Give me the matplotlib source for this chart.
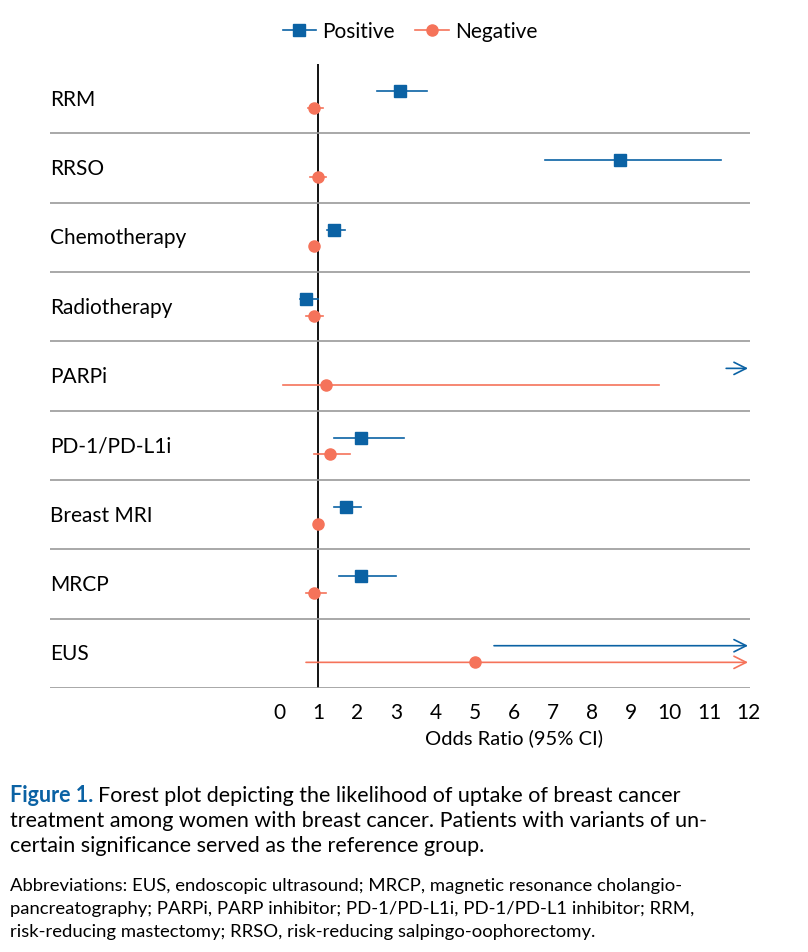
import matplotlib
matplotlib.use("Agg")
import matplotlib.pyplot as plt

categories = ["RRM", "RRSO", "Chemotherapy", "Radiotherapy", "PARPi", "PD-1/PD-L1i", "Breast MRI", "MRCP", "EUS"]
pos_or = [3.09, 8.72, 1.41, 0.69, None, 2.1, 1.71, 2.1, None]
pos_lo = [2.5, 6.8, 1.23, 0.54, 11.44, 1.41, 1.41, 1.53, 5.5]
pos_hi = [3.78, 11.3, 1.69, 1.0, 12.0, 3.2, 2.1, 3.0, 12.0]
pos_arrow = [False, False, False, False, True, False, False, False, True]
neg_or = [0.9, 1.0, 0.9, 0.9, 1.2, 1.3, 1.0, 0.9, 5.01]
neg_lo = [0.74, 0.8, 0.85, 0.69, 0.1, 0.9, 0.95, 0.69, 0.69]
neg_hi = [1.13, 1.2, 0.95, 1.13, 9.72, 1.82, 1.05, 1.2, 12.0]
neg_arrow = [False]*8 + [True]
xticks = list(range(13))

BLUE = "#0b62a4"
ORANGE = "#f5735a"
plt.rcParams['font.family'] = ['Lato', 'DejaVu Sans']

fig = plt.figure(figsize=(8.08, 9.53), dpi=100)
ax = fig.add_axes([50/808, 1-689/953, 700/808, 624/953])
ax.set_xlim(-5.86, 12.05)
ax.set_ylim(9, 0)
for s in ax.spines.values():
    s.set_visible(False)
ax.set_yticks([])
ax.set_xticks(xticks)
ax.tick_params(axis='x', length=0, labelsize=15, pad=10)
ax.set_xlabel("Odds Ratio (95% CI)", fontsize=14.5, labelpad=8)
ax.xaxis.set_label_coords((5.86+6)/17.91, -0.065)
ax.axvline(1, color='black', lw=1.3)
for i in range(1, 10):
    ax.axhline(i, color='#9a9a9a', lw=1.2)

def draw(i, y, o, lo, hi, arrow, color, marker):
    if arrow:
        ax.annotate("", xy=(hi, y), xytext=(lo, y),
                    arrowprops=dict(arrowstyle='->', color=color, lw=1.2, mutation_scale=22,
                                    shrinkA=0, shrinkB=0))
    else:
        ax.plot([lo, hi], [y, y], color=color, lw=1.2)
    if o is not None:
        ax.plot([o], [y], marker=marker, color=color, ms=8, ls='none')

for i, c in enumerate(categories):
    ax.text(-5.86, i+0.5, c, fontsize=15, va='center', ha='left')
    draw(i, i+0.39, pos_or[i], pos_lo[i], pos_hi[i], pos_arrow[i], BLUE, 's')
    draw(i, i+0.63, neg_or[i], neg_lo[i], neg_hi[i], neg_arrow[i], ORANGE, 'o')

h1, = ax.plot([], [], color=BLUE, marker='s', ms=8, lw=1.2)
h2, = ax.plot([], [], color=ORANGE, marker='o', ms=8, lw=1.2)
fig.legend([h1, h2], ["Positive", "Negative"], loc='center', bbox_to_anchor=(410/808, 1-32/953),
           ncol=2, frameon=False, fontsize=15, handlelength=1.6, columnspacing=1.0, handletextpad=0.3)

fig.canvas.draw()
r = fig.canvas.get_renderer()
x0 = 10/808
t = fig.text(x0, 1-796/953, "Figure 1.", fontsize=15.5, fontweight='bold', color=BLUE, va='center')
w = t.get_window_extent(r).width/808
fig.text(x0 + w + 0.006, 1-796/953, "Forest plot depicting the likelihood of uptake of breast cancer", fontsize=15.5, va='center')
fig.text(x0, 1-821/953, "treatment among women with breast cancer. Patients with variants of un-", fontsize=15.5, va='center')
fig.text(x0, 1-846/953, "certain significance served as the reference group.", fontsize=15.5, va='center')
ab = ["Abbreviations: EUS, endoscopic ultrasound; MRCP, magnetic resonance cholangio-",
      "pancreatography; PARPi, PARP inhibitor; PD-1/PD-L1i, PD-1/PD-L1 inhibitor; RRM,",
      "risk-reducing mastectomy; RRSO, risk-reducing salpingo-oophorectomy."]
for k, s in enumerate(ab):
    fig.text(x0, 1-(886+23*k)/953, s, fontsize=13.3, va='center')

fig.savefig("out.png", dpi=100)
